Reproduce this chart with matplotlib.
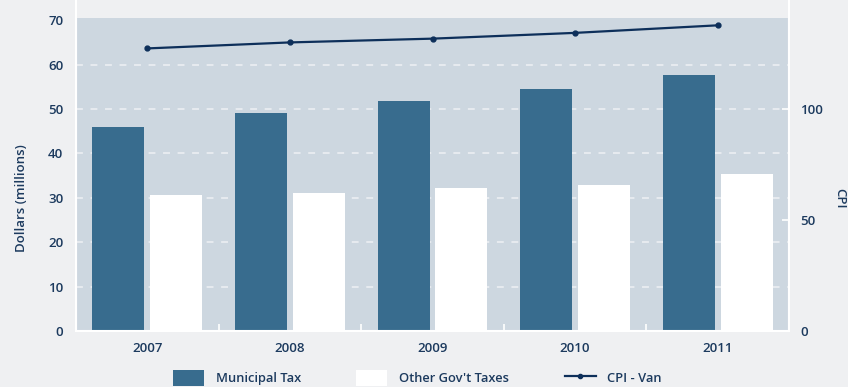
import numpy as np
import matplotlib
matplotlib.use('Agg')
import matplotlib.pyplot as plt
from matplotlib.lines import Line2D
from matplotlib.patches import Patch

years = ['2007', '2008', '2009', '2010', '2011']
municipal_tax = [46.0, 49.1, 51.8, 54.6, 57.7]
other_taxes = [30.6, 31.1, 32.2, 32.9, 35.4]
cpi_van = [127.3, 130.0, 131.7, 134.3, 137.7]

BG = '#eff0f2'
PANEL = '#cdd7e0'
BAR_BLUE = '#386c8e'
LINE_NAVY = '#0d2f5a'
TEXT = '#1c3a5e'

plt.rcParams['font.family'] = ['Open Sans', 'DejaVu Sans']
plt.rcParams['font.weight'] = 'semibold'
plt.rcParams['axes.labelweight'] = 'semibold'

fig = plt.figure(figsize=(8.48, 3.87), dpi=100, facecolor=BG)
ax = fig.add_axes([76 / 848, 1 - 331 / 387, (789 - 76) / 848, (331 - 18) / 387])
ax.set_facecolor(PANEL)

x = np.arange(len(years))
w = 0.364
off = 0.203

ax.set_ylim(0, 70.5)
ax.set_xlim(-0.5, len(years) - 0.5)

# dashed white guides (drawn by hand so nothing lands on the top edge)
for v in range(10, 70, 10):
    ax.axhline(v, color='#eef1f4', lw=1.1, ls=(0, (4.5, 5)), zorder=1)

ax.bar(x - off, municipal_tax, width=w, color=BAR_BLUE, zorder=2, label='Municipal Tax')
ax.bar(x + off, other_taxes, width=w, color='white', zorder=2, label="Other Gov't Taxes")

ax.set_yticks(range(0, 71, 10))
ax.tick_params(axis='y', length=0, pad=9, labelsize=9.5, labelcolor=TEXT)
ax.set_xticks(x)
ax.set_xticklabels(years)
ax.set_xticks(np.arange(-0.5, len(years), 1.0), minor=True)
ax.tick_params(axis='x', which='major', length=0, pad=8, labelsize=9.5, labelcolor=TEXT)
ax.tick_params(axis='x', which='minor', direction='in', length=5, width=1.2, color='white')

for s in ['top', 'right']:
    ax.spines[s].set_visible(False)
for s in ['left', 'bottom']:
    ax.spines[s].set_color('white')
    ax.spines[s].set_linewidth(1.5)

ax.set_ylabel('Dollars (millions)', fontsize=9.5, color=TEXT)
ax.yaxis.set_label_coords(-0.068, 0.425)

# CPI on the secondary axis
ax2 = ax.twinx()
ax2.set_ylim(0, 141)
ax2.plot(x, cpi_van, color=LINE_NAVY, lw=1.6, marker='o', markersize=3.5, zorder=3)
ax2.set_yticks([0, 50, 100])
ax2.tick_params(axis='y', direction='in', length=5, width=1.2, color='white',
                pad=8, labelsize=9.5, labelcolor=TEXT)
for s in ['top', 'left', 'bottom']:
    ax2.spines[s].set_visible(False)
ax2.spines['right'].set_color('white')
ax2.spines['right'].set_linewidth(1.5)
ax2.set_ylabel('CPI', fontsize=9.5, color=TEXT, rotation=270)
ax2.yaxis.set_label_coords(1.080, 0.425)

# spines run up to the top of the figure
for xf in [76 / 848, 789 / 848]:
    fig.add_artist(Line2D([xf, xf], [1 - 331 / 387, 1.0], transform=fig.transFigure,
                          color='white', lw=1.5))

handles = [Patch(facecolor=BAR_BLUE, edgecolor='none'),
           Patch(facecolor='white', edgecolor='none'),
           Line2D([], [], color=LINE_NAVY, lw=1.6, marker='o', markersize=3)]
labels = ['Municipal Tax', "Other Gov't Taxes", 'CPI - Van']
leg = fig.legend(handles, labels, loc='center left', bbox_to_anchor=(173 / 848, 1 - 378 / 387),
                 ncol=3, frameon=False, fontsize=9.3, handlelength=2.4, handleheight=1.44,
                 handletextpad=0.9, columnspacing=4.3, borderpad=0, borderaxespad=0)
for t in leg.get_texts():
    t.set_color(TEXT)

fig.savefig('out.png', dpi=100, facecolor=BG)
